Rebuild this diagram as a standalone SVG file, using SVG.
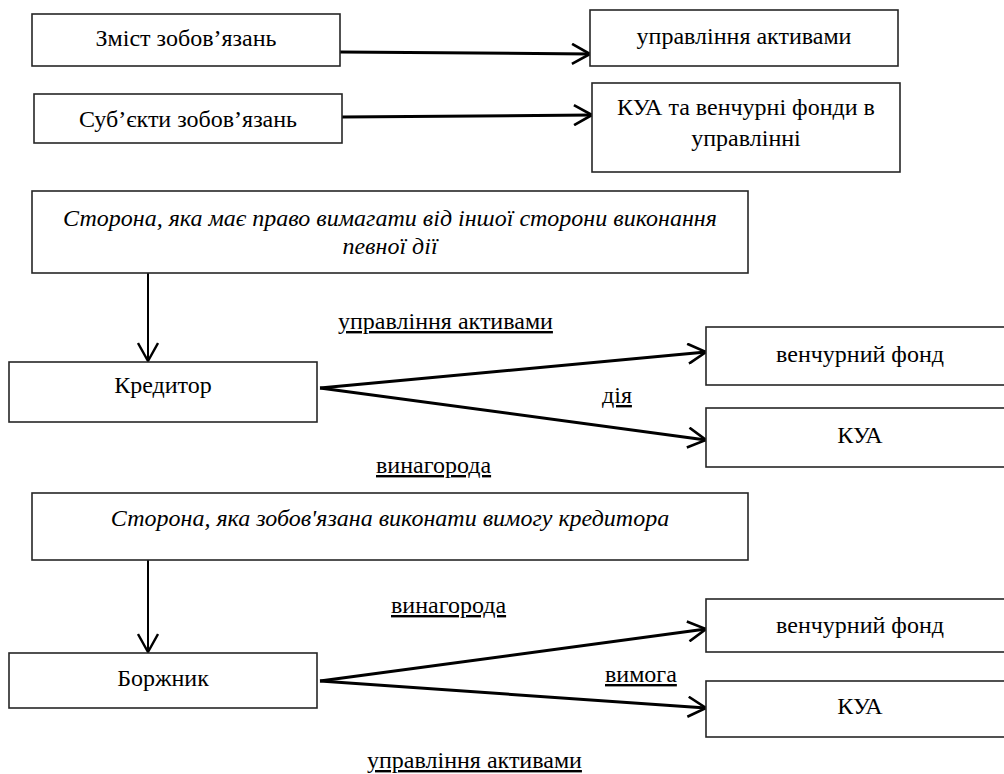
<svg xmlns="http://www.w3.org/2000/svg" width="1004" height="774" viewBox="0 0 1004 774">
<style>
.box{fill:#fff;stroke:#262626;stroke-width:1.6}
.t{font-family:"Liberation Serif","DejaVu Serif",serif;font-size:24px;fill:#000;text-anchor:middle}
.it{font-style:italic}
.lbl{font-family:"Liberation Serif","DejaVu Serif",serif;font-size:24px;fill:#000;text-decoration:underline}
.c{fill:none;stroke:#000;stroke-width:3;marker-end:url(#ah)}
.cv{fill:none;stroke:#000;stroke-width:2;marker-end:url(#ah2)}
</style>
<defs>
<marker id="ah" viewBox="0 0 20 22" refX="19" refY="11" markerWidth="20" markerHeight="22" markerUnits="userSpaceOnUse" orient="auto">
<path d="M1,1 L19,11 L1,21" fill="none" stroke="#000" stroke-width="2.6"/>
</marker>
<marker id="ah2" viewBox="0 0 20 22" refX="19" refY="11" markerWidth="20" markerHeight="22" markerUnits="userSpaceOnUse" orient="auto">
<path d="M1,1 L19,11 L1,21" fill="none" stroke="#000" stroke-width="2.4"/>
</marker>
</defs>
<rect width="1004" height="774" fill="#fff"/>
<g id="connectors">
<path class="c" d="M340,52 L590,54"/>
<path class="c" d="M342,117 L592,115"/>
<path class="cv" d="M148,273 L148,361"/>
<path class="c" d="M320,388 L706,352"/>
<path class="c" d="M320,388 L706,440"/>
<path class="cv" d="M148,560 L148,652"/>
<path class="c" d="M320,681 L706,629"/>
<path class="c" d="M320,681 L706,708"/>
</g>
<g id="n1"><rect class="box" x="32" y="14" width="308" height="52"/><text class="t" x="186" y="46">Зміст зобов’язань</text></g>
<g id="n2"><rect class="box" x="590" y="10" width="308" height="56"/><text class="t" x="744" y="44">управління активами</text></g>
<g id="n3"><rect class="box" x="34" y="94" width="308" height="49"/><text class="t" x="188" y="127">Суб’єкти зобов’язань</text></g>
<g id="n4"><rect class="box" x="592" y="83" width="308" height="89"/><text class="t" x="746" y="115">КУА та венчурні фонди в</text><text class="t" x="746" y="146">управлінні</text></g>
<g id="n5"><rect class="box" x="32" y="191" width="716" height="82"/><text class="t it" x="390" y="226">Сторона, яка має право вимагати від іншої сторони виконання</text><text class="t it" x="390" y="254">певної дії</text></g>
<g id="n6"><rect class="box" x="9" y="362" width="308" height="60"/><text class="t" x="163" y="393">Кредитор</text></g>
<g id="n7"><rect class="box" x="706" y="327" width="308" height="58"/><text class="t" x="860" y="362">венчурний фонд</text></g>
<g id="n8"><rect class="box" x="706" y="408" width="308" height="59"/><text class="t" x="860" y="443">КУА</text></g>
<g id="n9"><rect class="box" x="32" y="493" width="716" height="67"/><text class="t it" x="390" y="526">Сторона, яка зобов'язана виконати вимогу кредитора</text></g>
<g id="n10"><rect class="box" x="9" y="653" width="308" height="55"/><text class="t" x="163" y="686">Боржник</text></g>
<g id="n11"><rect class="box" x="706" y="599" width="308" height="53"/><text class="t" x="860" y="633">венчурний фонд</text></g>
<g id="n12"><rect class="box" x="706" y="681" width="308" height="56"/><text class="t" x="860" y="714">КУА</text></g>
<g id="labels">
<text class="lbl" x="338" y="329">управління активами</text>
<text class="lbl" x="602" y="403">дія</text>
<text class="lbl" x="376" y="473">винагорода</text>
<text class="lbl" x="391" y="613">винагорода</text>
<text class="lbl" x="605" y="682">вимога</text>
<text class="lbl" x="367" y="768">управління активами</text>
</g>
</svg>
